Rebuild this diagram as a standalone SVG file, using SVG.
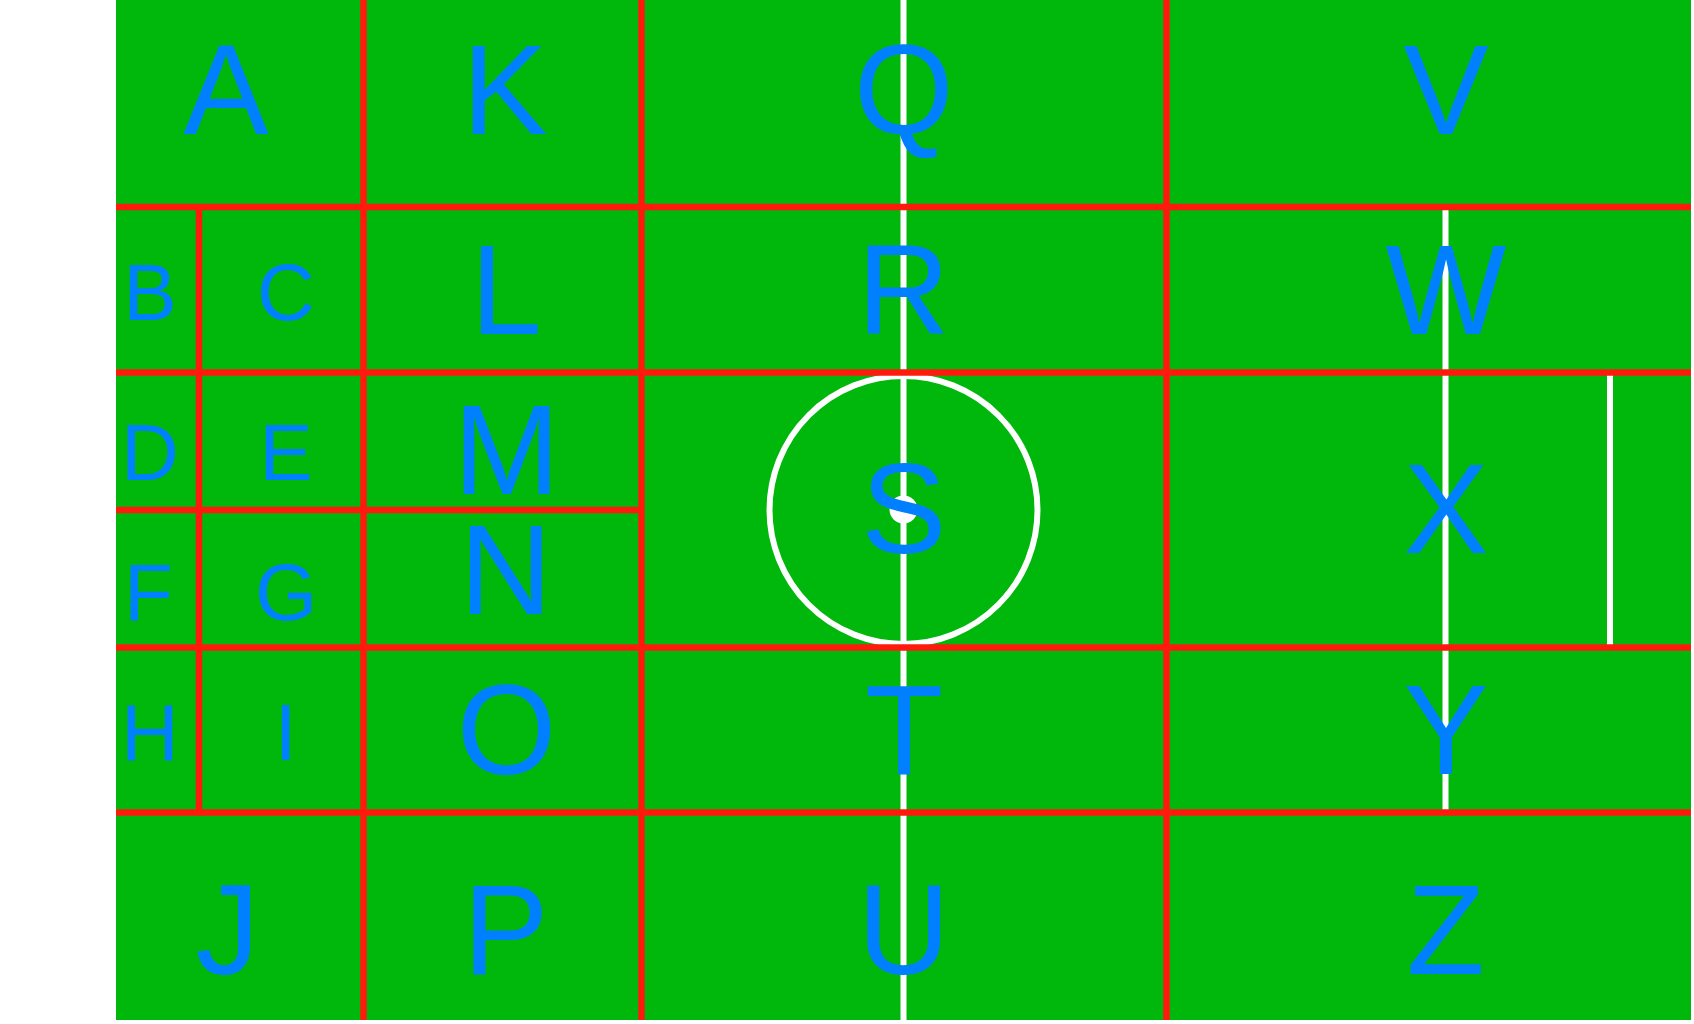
<svg xmlns="http://www.w3.org/2000/svg" width="1694" height="1024" viewBox="0 0 1694 1024">
<style>
.r{stroke:#FF1A0D;stroke-width:6.5;fill:none}
.w{stroke:#FFFFFF;stroke-width:6;fill:none}
.big{font-family:"Liberation Sans",Arial,sans-serif;font-size:128px;fill:#0080FF;text-anchor:middle}
.sm{font-family:"Liberation Sans",Arial,sans-serif;font-size:80px;fill:#0080FF;text-anchor:middle}
</style>
<rect x="0" y="0" width="1694" height="1024" fill="#FFFFFF"/>
<rect x="116" y="0" width="1575" height="1020" fill="#00B70C"/>
<g id="markings">
<line class="w" x1="903.5" y1="0" x2="903.5" y2="1020"/>
<line class="w" x1="1445.5" y1="207" x2="1445.5" y2="812"/>
<line class="w" x1="1610" y1="372" x2="1610" y2="648"/>
<circle class="w" cx="903.5" cy="510" r="134"/>
<circle cx="903.5" cy="509.5" r="14" fill="#FFFFFF"/>
</g>
<g id="connectors">
<line class="r" x1="363.5" y1="0" x2="363.5" y2="1020"/>
<line class="r" x1="641.5" y1="0" x2="641.5" y2="1020"/>
<line class="r" x1="1166.5" y1="0" x2="1166.5" y2="1020"/>
<line class="r" x1="199" y1="207" x2="199" y2="812"/>
<line class="r" x1="116" y1="207" x2="1691" y2="207"/>
<line class="r" x1="116" y1="372.5" x2="1691" y2="372.5"/>
<line class="r" x1="116" y1="510" x2="641.5" y2="510"/>
<line class="r" x1="116" y1="647.5" x2="1691" y2="647.5"/>
<line class="r" x1="116" y1="812.5" x2="1691" y2="812.5"/>
</g>
<g id="A"><text class="big" x="226" y="134">A</text></g>
<g id="B"><text class="sm" x="150" y="320">B</text></g>
<g id="C"><text class="sm" x="286" y="320">C</text></g>
<g id="D"><text class="sm" x="150" y="480">D</text></g>
<g id="E"><text class="sm" x="286" y="480">E</text></g>
<g id="F"><text class="sm" x="148.5" y="620">F</text></g>
<g id="G"><text class="sm" x="286" y="620">G</text></g>
<g id="H"><text class="sm" x="150" y="759.5">H</text></g>
<g id="I"><text class="sm" x="285.6" y="759.5">I</text></g>
<g id="J"><text class="big" x="227.5" y="973.7">J</text></g>
<g id="K"><text class="big" x="505" y="134">K</text></g>
<g id="L"><text class="big" x="506" y="334">L</text></g>
<g id="M"><text class="big" x="506.5" y="494">M</text></g>
<g id="N"><text class="big" x="505.6" y="614">N</text></g>
<g id="O"><text class="big" x="506.5" y="773.5">O</text></g>
<g id="P"><text class="big" x="505.6" y="973.7">P</text></g>
<g id="Q"><text class="big" x="903.8" y="134">Q</text></g>
<g id="R"><text class="big" x="903.5" y="334">R</text></g>
<g id="S"><text class="big" x="903.8" y="553">S</text></g>
<g id="T"><text class="big" x="904" y="773.5">T</text></g>
<g id="U"><text class="big" x="903.8" y="973.7">U</text></g>
<g id="V"><text class="big" x="1446" y="134">V</text></g>
<g id="W"><text class="big" x="1446" y="334">W</text></g>
<g id="X"><text class="big" x="1446" y="553">X</text></g>
<g id="Y"><text class="big" x="1446" y="773.5">Y</text></g>
<g id="Z"><text class="big" x="1445.6" y="973.7">Z</text></g>
</svg>
